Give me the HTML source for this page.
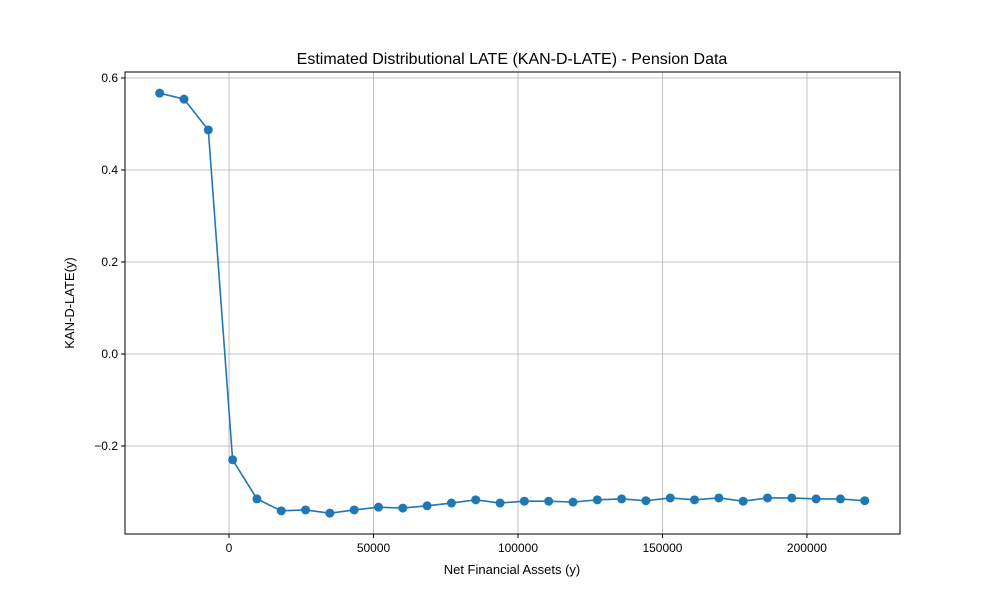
<!DOCTYPE html>
<html><head><meta charset="utf-8"><style>body{margin:0;background:#fff}svg{font-family:"Liberation Sans","DejaVu Sans",sans-serif}</style></head>
<body>
<svg id="chart" width="1000" height="600" xmlns="http://www.w3.org/2000/svg">
<rect width="1000" height="600" fill="#fff"/>
<g id="grid"></g>
<g id="axes"></g>
<g id="series"></g>
<rect x="125" y="72" width="775" height="462" fill="none" stroke="#000" stroke-width="1"/>
<text x="512" y="64" font-size="16" text-anchor="middle">Estimated Distributional LATE (KAN-D-LATE) - Pension Data</text>
<text x="512" y="574" font-size="13" text-anchor="middle">Net Financial Assets (y)</text>
<text transform="translate(74,303) rotate(-90)" font-size="13" text-anchor="middle">KAN-D-LATE(y)</text>
</svg>
<script>
const xValues=[-24000,-15586,-7172,1241,9655,18069,26483,34897,43310,51724,60138,68552,76966,85379,93793,102207,110621,119034,127448,135862,144276,152690,161103,169517,177931,186345,194759,203172,211586,220000];
const yValues=[0.567,0.554,0.487,-0.230,-0.315,-0.341,-0.339,-0.346,-0.339,-0.333,-0.335,-0.330,-0.324,-0.317,-0.324,-0.320,-0.320,-0.322,-0.317,-0.315,-0.319,-0.313,-0.317,-0.313,-0.320,-0.313,-0.313,-0.315,-0.315,-0.319];
const xTicks=[0,50000,100000,150000,200000];
const yTicks=[-0.2,0.0,0.2,0.4,0.6];
const yTickLabels=["\u22120.2","0.0","0.2","0.4","0.6"];
const L=125,R=900,T=72,B=534,xmin=-36000,xmax=232200,ymin=-0.3913,ymax=0.6130;
const sx=v=>L+(v-xmin)/(xmax-xmin)*(R-L);
const sy=v=>B-(v-ymin)/(ymax-ymin)*(B-T);
const NS="http://www.w3.org/2000/svg";
function mk(tag,attrs,parent){const e=document.createElementNS(NS,tag);for(const k in attrs)e.setAttribute(k,attrs[k]);parent.appendChild(e);return e;}
const grid=document.getElementById('grid'),axes=document.getElementById('axes'),series=document.getElementById('series');
xTicks.forEach(t=>{const x=sx(t);
 const g=mk('line',{x1:x,x2:x,y1:T,y2:B,stroke:'#b0b0b0','stroke-width':0.8},grid);
 
 const k=mk('line',{x1:x,x2:x,y1:B,y2:B+4,stroke:'#000'},axes);
 
 const tx=mk('text',{x:x,y:B+18,'font-size':12,'text-anchor':'middle'},axes);tx.textContent=String(t);
 });
yTicks.forEach((t,i)=>{const y=sy(t);
 const g=mk('line',{x1:L,x2:R,y1:y,y2:y,stroke:'#b0b0b0','stroke-width':0.8},grid);
 
 const k=mk('line',{x1:L-4,x2:L,y1:y,y2:y,stroke:'#000'},axes);
 
 const tx=mk('text',{x:L-7,y:y+4,'font-size':12,'text-anchor':'end'},axes);tx.textContent=yTickLabels[i];
 });
const pts=xValues.map((x,i)=>sx(x)+','+sy(yValues[i])).join(' ');
const pl=mk('polyline',{points:pts,fill:'none',stroke:'#1f77b4','stroke-width':1.6},series);

xValues.forEach((x,i)=>{const c=mk('circle',{cx:sx(x),cy:sy(yValues[i]),r:4.5,fill:'#1f77b4'},series);
 });
</script>
</body></html>
